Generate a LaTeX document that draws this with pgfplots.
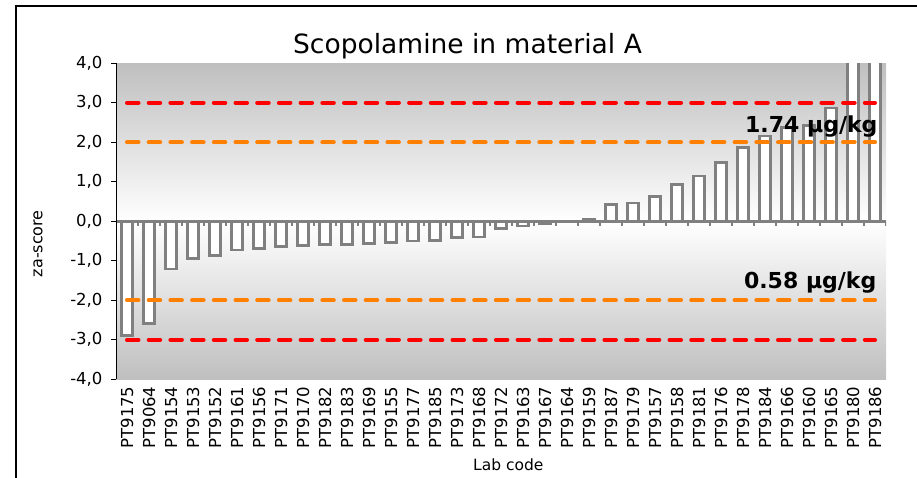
\documentclass[border=0pt]{standalone}
\usepackage{fontspec}
\setmainfont{DejaVu Sans}
\usepackage{pgfplots}
\pgfplotsset{compat=1.18}
\definecolor{barg}{RGB}{128,128,128}
\definecolor{zred}{RGB}{255,0,0}
\definecolor{zorange}{RGB}{255,128,0}
\definecolor{bgg}{RGB}{191,191,191}
\begin{document}
\begin{tikzpicture}[x=1pt,y=1pt]
\useasboundingbox (0,0) rectangle (917,477);
\fill[white] (0,0) rectangle (917,477);
\draw[black, line width=1.5pt] (15.8,-20) -- (15.8,471) -- (940,471);
\begin{axis}[
  at={(116pt,97.7pt)}, anchor=south west,
  scale only axis, width=770pt, height=316pt,
  xmin=-0.5, xmax=34.5, ymin=-4, ymax=4,
  axis line style={draw=none},
  xtick={0,...,34},
  xticklabels={PT9175,PT9064,PT9154,PT9153,PT9152,PT9161,PT9156,PT9171,PT9170,PT9182,PT9183,PT9169,PT9155,PT9177,PT9185,PT9173,PT9168,PT9172,PT9163,PT9167,PT9164,PT9159,PT9187,PT9179,PT9157,PT9158,PT9181,PT9176,PT9178,PT9184,PT9166,PT9160,PT9165,PT9180,PT9186},
  x tick style={draw=none},
  xticklabel style={rotate=90, anchor=east, inner sep=2pt, font=\fontsize{16.5}{19}\selectfont},
  ytick={-4,-3,-2,-1,0,1,2,3,4},
  yticklabels={{-4,0},{-3,0},{-2,0},{-1,0},{0,0},{1,0},{2,0},{3,0},{4,0}},
  ytick pos=left,
  tick align=outside,
  major tick length=5pt,
  y tick style={black, line width=1pt},
  yticklabel style={font=\fontsize{16.5}{19}\selectfont, xshift=-5pt},
]
\fill[top color=bgg, bottom color=white] (axis cs:-0.5,0) rectangle (axis cs:34.5,4);
\fill[top color=white, bottom color=bgg] (axis cs:-0.5,-4) rectangle (axis cs:34.5,0);
\addplot[ybar, bar width=10.6pt, fill=white, draw=barg, line width=2.7pt] coordinates {
(0,-2.89) (1,-2.58) (2,-1.21) (3,-0.94) (4,-0.87) (5,-0.73) (6,-0.68) (7,-0.64)
(8,-0.62) (9,-0.59) (10,-0.59) (11,-0.56) (12,-0.53) (13,-0.50) (14,-0.49) (15,-0.41)
(16,-0.40) (17,-0.19) (18,-0.12) (19,-0.06) (20,-0.02) (21,0.06) (22,0.42) (23,0.46)
(24,0.63) (25,0.94) (26,1.15) (27,1.48) (28,1.86) (29,2.16) (30,2.38) (31,2.42)
(32,2.87) (33,5.0) (34,5.5)};
\draw[barg, line width=2.5pt] (axis cs:-0.5,0) -- (axis cs:34.5,0);
\draw[barg, line width=2.5pt] ([xshift=-3pt]axis cs:-0.5,0) -- (axis cs:-0.5,0);
\pgfplotsinvokeforeach{-0.5,0.5,...,34.5}{\draw[barg, line width=2.3pt] (axis cs:#1,0) -- ([yshift=-5pt]axis cs:#1,0);}
\addplot[zred, line width=4pt, line cap=round, dash pattern=on 11.5pt off 10.2pt] coordinates {(0,3) (34,3)};
\addplot[zred, line width=4pt, line cap=round, dash pattern=on 11.5pt off 10.2pt] coordinates {(0,-3) (34,-3)};
\addplot[zorange, line width=4pt, line cap=round, dash pattern=on 11.5pt off 10.2pt] coordinates {(0,2) (34,2)};
\addplot[zorange, line width=4pt, line cap=round, dash pattern=on 11.5pt off 10.2pt] coordinates {(0,-2) (34,-2)};
\draw[black, line width=1.3pt] (rel axis cs:0,0) -- (rel axis cs:0,1);
\node[font=\bfseries\fontsize{22}{25}\selectfont, anchor=base east, inner sep=0pt] at (axis cs:34.12,2.25) {1.74 µg/kg};
\node[font=\bfseries\fontsize{22}{25}\selectfont, anchor=base east, inner sep=0pt] at (axis cs:34.07,-1.71) {0.58 µg/kg};
\end{axis}
\node[font=\fontsize{26.5}{30}\selectfont, anchor=base] at (467.5,423.7) {Scopolamine in material A};
\node[font=\fontsize{16}{19}\selectfont, rotate=90] at (38,233.3) {za-score};
\node[font=\fontsize{15.5}{18}\selectfont, anchor=base] at (508.3,7) {Lab code};
\end{tikzpicture}
\end{document}
